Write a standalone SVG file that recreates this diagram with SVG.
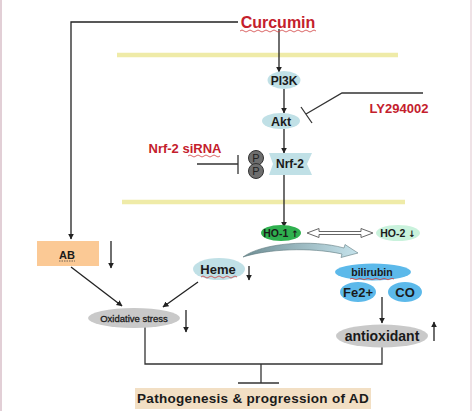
<svg xmlns="http://www.w3.org/2000/svg" width="474" height="413" viewBox="0 0 474 413">
<style>
.t{font-family:"Liberation Sans",Arial,sans-serif;font-weight:bold;text-anchor:middle;fill:#1a1a1a}
.red{fill:#c4202c}
.ar{font-family:"DejaVu Sans",sans-serif;font-weight:bold}
.ln{stroke:#333;stroke-width:1.3;fill:none}
.arr{stroke:#222;stroke-width:1.3;fill:none;marker-end:url(#ah)}
.mem{stroke:#efeba8;stroke-width:4.5}
.sq{stroke:#d04040;stroke-width:0.8;fill:none}
.lb{fill:#c0e0e6}
.bl{fill:#5cb9ea}
.gr{fill:#c9c9c9}
</style>
<defs>
<marker id="ah" viewBox="0 0 10 10" refX="9" refY="5" markerWidth="6" markerHeight="6" orient="auto" markerUnits="userSpaceOnUse">
<path d="M0,0 L10,5 L0,10 Z" fill="#222"/>
</marker>
<linearGradient id="cg" x1="0" y1="0" x2="1" y2="0">
<stop offset="0" stop-color="#6f8e94"/>
<stop offset="1" stop-color="#c6e3ec"/>
</linearGradient>
</defs>
<rect x="0" y="0" width="474" height="413" fill="#ffffff"/>
<line x1="1" y1="0" x2="1" y2="411" stroke="#e2cfd6" stroke-width="2"/>
<line x1="471" y1="0" x2="471" y2="411" stroke="#efe2e6" stroke-width="2"/>

<g id="membranes">
<line class="mem" x1="117" y1="55" x2="398" y2="55"/>
<line class="mem" x1="122" y1="202" x2="405" y2="202"/>
</g>

<g id="connectors">
<polyline class="arr" points="238,22 71,22 71,239"/>
<line class="arr" x1="279" y1="29" x2="279" y2="72"/>
<line class="arr" x1="284" y1="89" x2="284" y2="113"/>
<line class="arr" x1="284" y1="129" x2="284" y2="153"/>
<line class="arr" x1="284" y1="175" x2="284" y2="227"/>
<polyline class="ln" points="423,93 342,93 306,114"/>
<line class="ln" x1="301" y1="107" x2="312" y2="123"/>
<line class="ln" x1="197" y1="164" x2="238" y2="164"/>
<line class="ln" x1="238" y1="155" x2="238" y2="174"/>
<polygon points="307,233 319,228.5 319,231.5 361,231.5 361,228.5 373,233 361,237.5 361,234.5 319,234.5 319,237.5" fill="#fff" stroke="#666" stroke-width="1"/>
<path d="M243,257 C262,243 312,239 344,248 L345,244.5 L358,253 L341,257.5 L342,254 C310,247 268,249 243,257 Z" fill="url(#cg)" stroke="#5f7a80" stroke-width="0.6"/>
<line class="arr" x1="71" y1="267" x2="122" y2="306"/>
<line class="arr" x1="198" y1="282" x2="163" y2="307"/>
<line class="arr" x1="382" y1="297" x2="382" y2="323"/>
<polyline class="ln" points="145,327 145,364 382,364 382,347"/>
<line class="ln" x1="261" y1="364" x2="261" y2="383"/>
<line class="ln" x1="238" y1="383" x2="279" y2="383"/>
<line class="arr" x1="111" y1="241" x2="111" y2="268"/>
<line class="arr" x1="249" y1="266" x2="249" y2="280"/>
<line class="arr" x1="186" y1="310" x2="186" y2="332"/>
<line class="arr" x1="434" y1="341" x2="434" y2="322"/>
</g>

<g id="curcumin">
<text class="t red" x="278" y="28" font-size="16">Curcumin</text>
<path class="sq" d="M240,31 q2,-2 4,0 t4,0 t4,0 t4,0 t4,0 t4,0 t4,0 t4,0 t4,0 t4,0 t4,0 t4,0 t4,0 t4,0 t4,0 t4,0 t4,0 t4,0 t4,0"/>
</g>
<g id="ly294002">
<text class="t red" x="399" y="113" font-size="13">LY294002</text>
</g>
<g id="pi3k">
<ellipse class="lb" cx="284" cy="80" rx="16.5" ry="9"/>
<text class="t" x="284" y="84.5" font-size="12">PI3K</text>
</g>
<g id="akt">
<ellipse class="lb" cx="281" cy="121" rx="19" ry="8"/>
<text class="t" x="281" y="126" font-size="12.5">Akt</text>
</g>
<g id="nrf2-sirna">
<text class="t red" x="185" y="153" font-size="13">Nrf-2 siRNA</text>
<path class="sq" d="M188,156 q2,-2 4,0 t4,0 t4,0 t4,0 t4,0 t4,0 t4,0 t4,0"/>
</g>
<g id="nrf2">
<path d="M269,153 L312,153 L307,164 L312,175 L269,175 L273,164 Z" class="lb"/>
<circle cx="256" cy="158" r="7.5" fill="#6e6e6e" stroke="#333" stroke-width="1"/>
<circle cx="256" cy="171" r="7.5" fill="#6e6e6e" stroke="#333" stroke-width="1"/>
<text x="256" y="162" font-size="11" font-family="Liberation Sans,Arial,sans-serif" text-anchor="middle" fill="#222">P</text>
<text x="256" y="175" font-size="11" font-family="Liberation Sans,Arial,sans-serif" text-anchor="middle" fill="#222">P</text>
<text class="t" x="290" y="168" font-size="12">Nrf-2</text>
</g>
<g id="ho1">
<ellipse cx="281" cy="233" rx="20" ry="8" fill="#2fb04f"/>
<text class="t" x="281" y="237" font-size="10.5">HO-1 <tspan class="ar" font-size="9">↑</tspan></text>
</g>
<g id="ho2">
<ellipse cx="398" cy="233" rx="22" ry="8" fill="#c9f2dc"/>
<text class="t" x="398" y="237" font-size="10.5">HO-2 <tspan class="ar" font-size="9">↓</tspan></text>
</g>
<g id="ab">
<rect x="37" y="241" width="62" height="25" fill="#fbc995"/>
<text class="t" x="67" y="259" font-size="11">AB</text>
<line x1="59" y1="261" x2="75" y2="261" stroke="#333" stroke-width="0.7" stroke-dasharray="1.5,1"/>
</g>
<g id="heme">
<ellipse class="lb" cx="219" cy="269" rx="26" ry="11"/>
<text class="t" x="218" y="274" font-size="13">Heme</text>
<path class="sq" d="M201,277 q2,-2 4,0 t4,0 t4,0 t4,0 t4,0 t4,0 t4,0 t4,0 t4,0"/>
</g>
<g id="bilirubin">
<ellipse class="bl" cx="373" cy="272" rx="38" ry="8.5"/>
<text class="t" x="372" y="276" font-size="10.5">bilirubin</text>
<path class="sq" d="M350,279 q2,-1.5 4,0 t4,0 t4,0 t4,0 t4,0 t4,0 t4,0 t4,0 t4,0 t4,0 t4,0" stroke="#333"/>
</g>
<g id="fe2">
<ellipse class="bl" cx="358" cy="292" rx="18" ry="10"/>
<text class="t" x="358" y="297" font-size="13">Fe2+</text>
</g>
<g id="co">
<ellipse class="bl" cx="405" cy="292" rx="17" ry="10"/>
<text class="t" x="405" y="297" font-size="13">CO</text>
</g>
<g id="oxidative-stress">
<ellipse class="gr" cx="134" cy="318" rx="46" ry="10"/>
<text class="t" x="134" y="321.5" font-size="9.5" style="font-weight:normal;stroke:#1a1a1a;stroke-width:0.3">Oxidative stress</text>
</g>
<g id="antioxidant">
<ellipse class="gr" cx="382" cy="336" rx="46" ry="11.5"/>
<text class="t" x="382" y="341" font-size="14">antioxidant</text>
</g>
<g id="pathogenesis">
<rect x="135" y="388" width="236" height="21" fill="#f2dfc4"/>
<text class="t" x="253" y="403" font-size="13.5" letter-spacing="0.3">Pathogenesis &amp; progression of AD</text>
</g>
</svg>
